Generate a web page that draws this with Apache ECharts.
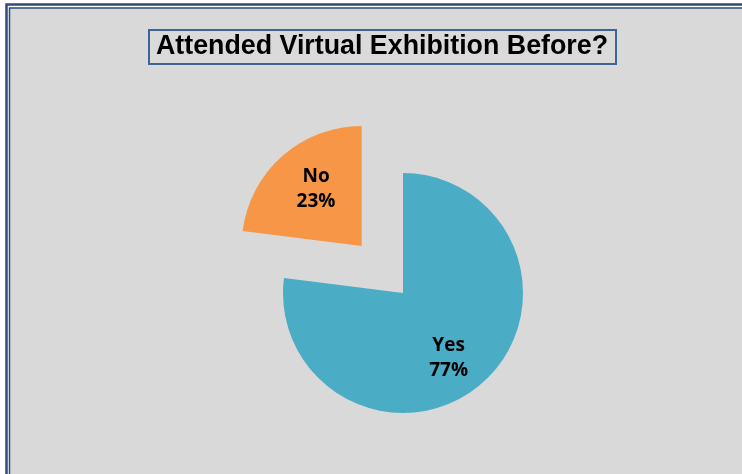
<!DOCTYPE html>
<html>
<head>
<meta charset="utf-8">
<style>
  html, body { margin: 0; padding: 0; background: #FFFFFF; }
  #chart { width: 742px; height: 474px; }
</style>
<script src="https://cdn.jsdelivr.net/npm/echarts@6/dist/echarts.min.js"></script>
</head>
<body>
<div id="chart"></div>
<script>
// Survey answers and their shares (percent)
const categories = ['Yes', 'No'];
const shares = [77, 23];
const sliceColors = ['#4BACC6', '#F79646'];
const explodedCategory = 'No';
const chartTitle = 'Attended Virtual Exhibition Before?';

const total = shares.reduce((a, b) => a + b, 0);
// Mid-angle of each slice, measured clockwise from 12 o'clock
const midAngles = [];
let acc = 0;
shares.forEach(v => {
  midAngles.push((acc + v / 2) / total * 2 * Math.PI);
  acc += v;
});
// Extra push of the inside labels along each slice's bisector (x and y parts),
// plus a small downward nudge for the two-line text block
const labelShiftX = 6;
const labelShiftY = 19;
const labelNudgeY = 4;

const chart = echarts.init(document.getElementById('chart'), null, { renderer: 'canvas' });

chart.setOption({
  backgroundColor: '#FFFFFF',
  animation: false,
  graphic: [
    // double frame around the plot area
    {
      type: 'rect', z: 0, silent: true,
      shape: { x: 6.5, y: 4.5, width: 800, height: 600 },
      style: { fill: '#FFFFFF', stroke: '#2C4D75', lineWidth: 2.5 }
    },
    {
      type: 'rect', z: 1, silent: true,
      shape: { x: 9.5, y: 8, width: 800, height: 600 },
      style: { fill: '#D9D9D9', stroke: '#2C4D75', lineWidth: 1.5 }
    },
    // boxed title
    {
      type: 'rect', z: 2, silent: true,
      shape: { x: 149, y: 30, width: 467, height: 34 },
      style: { fill: '#DADADA', stroke: '#3F6395', lineWidth: 2 }
    },
    {
      type: 'text', z: 3, silent: true,
      x: 382, y: 47,
      style: {
        text: chartTitle,
        fill: '#000000',
        font: 'bold 26.8px "Liberation Sans", Arial, sans-serif',
        align: 'center',
        verticalAlign: 'middle'
      }
    }
  ],
  series: [{
    type: 'pie',
    center: [403, 293],
    radius: [0, 120],
    startAngle: 90,
    clockwise: true,
    selectedMode: 'single',
    selectedOffset: 62.5,
    emphasis: { disabled: true },
    silent: true,
    avoidLabelOverlap: false,
    itemStyle: { borderWidth: 0 },
    label: {
      show: true,
      position: 'inside',
      formatter: p => p.name + '\n' + p.value + '%',
      color: '#000000',
      fontFamily: '"Open Sans", sans-serif',
      fontWeight: 'bold',
      fontSize: 19,
      lineHeight: 25,
      align: 'center'
    },
    labelLine: { show: false },
    labelLayout: function (params) {
      const a = midAngles[params.dataIndex];
      return {
        dx: Math.sin(a) * labelShiftX,
        dy: -Math.cos(a) * labelShiftY + labelNudgeY
      };
    },
    data: categories.map((c, i) => ({
      name: c,
      value: shares[i],
      selected: c === explodedCategory,
      itemStyle: { color: sliceColors[i] }
    }))
  }]
});
</script>
</body>
</html>
